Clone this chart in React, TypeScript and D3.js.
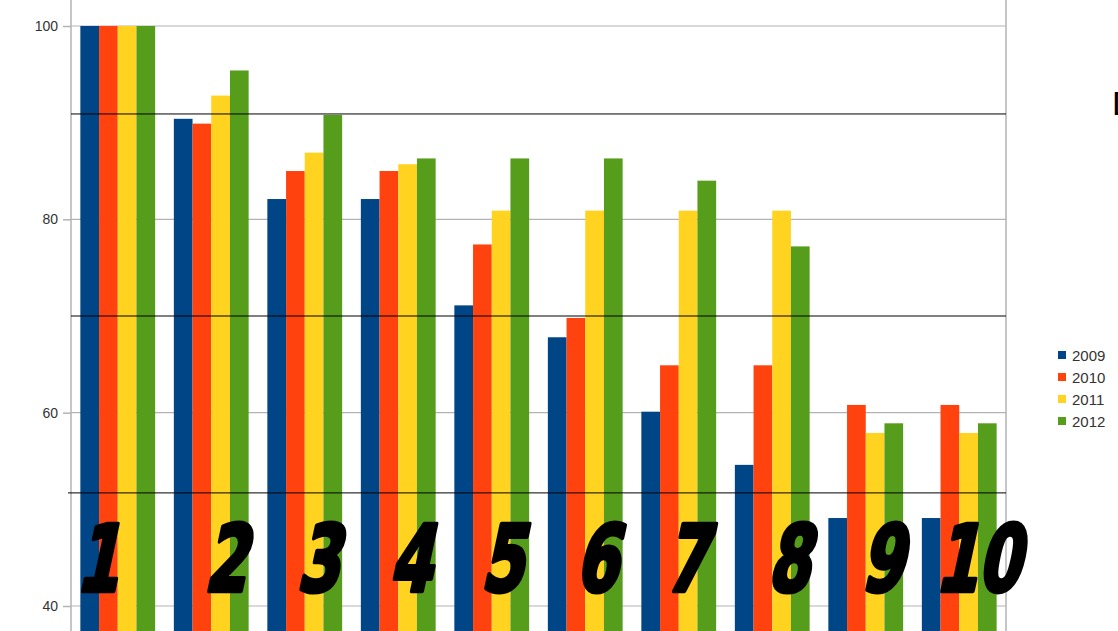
import { useEffect, useRef } from "react";
import * as d3 from "d3";

const categories = ["1", "2", "3", "4", "5", "6", "7", "8", "9", "10"];
const seriesNames = ["2009", "2010", "2011", "2012"];
const values2009 = [100, 90.4, 82.1, 82.1, 71.1, 67.8, 60.1, 54.6, 49.1, 49.1];
const values2010 = [100, 89.9, 85.0, 85.0, 77.4, 69.8, 64.9, 64.9, 60.8, 60.8];
const values2011 = [100, 92.8, 86.9, 85.7, 80.9, 80.9, 80.9, 80.9, 57.9, 57.9];
const values2012 = [100, 95.4, 90.8, 86.3, 86.3, 86.3, 84.0, 77.2, 58.9, 58.9];
const yTicks = [40, 60, 80, 100];
const markerLines = [90.9, 70.0, 51.7];

const colors = ["#004586", "#ff420e", "#ffd320", "#579d1c"];
// hand-placed big numbers sit a bit off the group centres
const labelShift = [-21, 14, 13, 12, 10, 11, 7, 16, 16, 18];

export default function App() {
    const svgRef = useRef<SVGSVGElement>(null);

    useEffect(() => {
        if (!svgRef.current) return;
        const W = 1118, H = 631;
        const left = 71, right = 1006;
        const svg = d3.select(svgRef.current);
        svg.selectAll("*").remove();

        const series = [values2009, values2010, values2011, values2012];

        const x = d3.scaleBand<string>().domain(categories).range([left, right]).padding(0);
        const bw = x.bandwidth();
        const xs = d3.scaleBand<string>().domain(seriesNames).range([bw * 0.1, bw * 0.9]).padding(0);
        const y = d3.scaleLinear().domain([40, 100]).range([606, 26]);

        svg.append("rect").attr("width", W).attr("height", H).attr("fill", "#fff");

        // gridlines
        svg.append("g").selectAll("line").data(yTicks).join("line")
            .attr("x1", left).attr("x2", right)
            .attr("y1", d => y(d)).attr("y2", d => y(d))
            .attr("stroke", "#b3b3b3").attr("stroke-width", 1.2);

        // bars
        categories.forEach((c, i) => {
            const g = svg.append("g").attr("transform", `translate(${x(c)},0)`);
            seriesNames.forEach((s, j) => {
                const v = series[j][i];
                g.append("rect")
                    .attr("x", xs(s)!).attr("width", xs.bandwidth())
                    .attr("y", y(v)).attr("height", H - y(v))
                    .attr("fill", colors[j]);
            });
        });

        // y axis + right frame
        svg.append("line").attr("x1", left).attr("x2", left).attr("y1", 0).attr("y2", H)
            .attr("stroke", "#b3b3b3").attr("stroke-width", 1.5);
        svg.append("line").attr("x1", right).attr("x2", right).attr("y1", 0).attr("y2", H)
            .attr("stroke", "#b3b3b3").attr("stroke-width", 1.5);

        const axis = svg.append("g").attr("transform", `translate(${left},0)`)
            .call(d3.axisLeft(y).tickValues(yTicks).tickSize(8).tickPadding(5));
        axis.select(".domain").remove();
        axis.selectAll(".tick line").attr("stroke", "#b3b3b3").attr("stroke-width", 1.5);
        axis.selectAll(".tick text").attr("fill", "#333")
            .style("font-family", "'Liberation Sans', Arial, sans-serif").style("font-size", "14px");

        // black annotation lines
        svg.append("g").selectAll("line").data(markerLines).join("line")
            .attr("x1", (_, i) => (i === 2 ? 68 : left)).attr("x2", right)
            .attr("y1", d => y(d)).attr("y2", d => y(d))
            .attr("stroke", "#000").attr("stroke-width", 1);

        // big numbers: heavy, condensed, slanted
        svg.append("g").selectAll("text").data(categories).join("text")
            .attr("transform", (d, i) => `translate(${x(d)! + bw / 2 + labelShift[i]},591) skewX(-12) scale(0.74,1)`)
            .attr("text-anchor", "middle")
            .attr("fill", "#000").attr("stroke", "#000").attr("stroke-width", 4.5)
            .attr("stroke-linejoin", "round")
            .style("font-family", "'DejaVu Sans Condensed', 'DejaVu Sans', sans-serif")
            .style("font-weight", "bold")
            .style("font-size", "92px")
            .text(d => d);

        // legend
        const lg = svg.append("g").attr("transform", "translate(1058,355)");
        seriesNames.forEach((s, j) => {
            lg.append("rect").attr("x", 0).attr("y", j * 22 - 4).attr("width", 8).attr("height", 8).attr("fill", colors[j]);
            lg.append("text").attr("x", 14).attr("y", j * 22 + 5.5).attr("fill", "#333")
                .style("font-family", "'Liberation Sans', Arial, sans-serif").style("font-size", "15px")
                .text(s);
        });

        // letter cut by the right edge, as in the source image
        svg.append("text").attr("x", 1112).attr("y", 115).attr("fill", "#000")
            .style("font-family", "'Liberation Sans', Arial, sans-serif").style("font-size", "34px")
            .text("D");
    }, []);

    return (
        <svg ref={svgRef} width={1118} height={631}
            style={{ position: "fixed", left: 0, top: 0, display: "block" }} />
    );
}
